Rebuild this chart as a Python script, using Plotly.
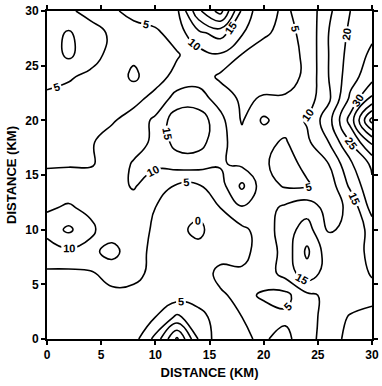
import plotly.graph_objects as go

# grid coordinates (km)
x_km = [0, 2, 4, 6, 8, 10, 12, 14, 16, 18, 20, 22, 24, 26, 28, 30]
y_km = [0, 2, 4, 6, 8, 10, 12, 14, 16, 18, 20, 22, 24, 26, 28, 30]

# field values, one row per y (from y=0 up to y=30)
row_y00 = [1, 1, 2, 2.5, 3, 11.5, 26, 9.5, 2, 4.5, 5.5, 3.5, 8.5, 12, 17, 19]
row_y02 = [2, 2, 2.5, 3, 3, 5, 11, 6.5, 3, 5, 6.5, 6, 8, 12, 15.5, 17]
row_y04 = [3, 3, 3.5, 4, 4, 3, 2.5, 3, 4.5, 6, 4.5, 3.5, 9, 11, 12, 13]
row_y06 = [4.5, 4, 4.5, 6.5, 6, 4, 2.5, 3, 6, 5.5, 7, 12, 18, 12.5, 12, 15.5]
row_y08 = [7, 9, 8.5, 12, 6.5, 4, 2, 2, 3.5, 4, 6.5, 12, 21, 12, 11.5, 17]
row_y10 = [12, 16, 11, 7, 6.5, 4.5, 1.5, -1.5, 4, 4, 7, 13, 17, 9.5, 11, 17]
row_y12 = [9.5, 10.5, 9, 8, 7.5, 5, 2.5, 2, 5, 9.5, 8, 11, 13, 8, 11, 22]
row_y14 = [7, 8, 8, 8, 10.5, 7, 4.5, 4.5, 8, 16, 7, 4.5, 4.5, 7, 16, 24]
row_y16 = [4.5, 4.5, 4.5, 7, 10.5, 11, 12, 12, 10.5, 9, 5.5, 3.5, 6, 10, 19, 26]
row_y18 = [3, 3.5, 4.5, 7, 8, 11, 17, 17, 11.5, 7, 6, 4.5, 9, 15, 25, 36]
row_y20 = [4, 3, 3, 4.5, 7, 11, 18, 18, 11.5, 4.5, 11, 7, 10.5, 18, 32, 52]
row_y22 = [4, 3.5, 2.5, 2.5, 3.5, 6.5, 12, 12, 8, 4, 5.5, 5.5, 7.5, 14, 26, 36]
row_y24 = [6.5, 5.5, 4, 3, -1, 3, 6.5, 8, 4, 3, 2.5, 3, 6, 15, 23, 28]
row_y26 = [7, 11, 7, 3.5, 1, 3, 4.5, 8, 9.5, 4.8, 3.5, 3, 6, 15, 22, 26]
row_y28 = [8, 10.5, 7.5, 4, 2.5, 4, 7.5, 14, 17, 10.5, 5.5, 4, 6, 15, 21, 24]
row_y30 = [8, 6, 3, 4, 7, 8, 9, 24, 32, 14, 6, 4.5, 6.5, 14, 20, 23]

z_rows = [row_y00, row_y02, row_y04, row_y06, row_y08, row_y10, row_y12, row_y14,
          row_y16, row_y18, row_y20, row_y22, row_y24, row_y26, row_y28, row_y30]

tick_vals = [0, 5, 10, 15, 20, 25, 30]
tick_text = ["0", "5", "10", "15", "20", "25", "30"]
axis_title = "DISTANCE (KM)"

fig = go.Figure(go.Contour(
    x=x_km, y=y_km, z=z_rows,
    contours=dict(start=0, end=55, size=5, coloring="lines", showlabels=True,
                  labelfont=dict(size=11, color="black", family="Liberation Sans", weight="bold")),
    line=dict(color="black", width=1.6, smoothing=1.3),
    colorscale=[[0, "black"], [1, "black"]],
    showscale=False, hoverinfo="skip",
))

axis_common = dict(range=[0, 30], tickvals=tick_vals, ticktext=tick_text,
                   ticks="outside", ticklen=4, tickwidth=1.5, tickcolor="black",
                   showline=True, linecolor="black", linewidth=2, mirror="ticks",
                   showgrid=False, zeroline=False,
                   tickfont=dict(family="Liberation Sans", size=12, color="black", weight="bold"),
                   title=dict(text=axis_title, font=dict(family="Liberation Sans", size=13,
                                                          color="black", weight="bold"), standoff=6))

fig.update_xaxes(**axis_common)
fig.update_yaxes(**axis_common)
fig.update_layout(width=382, height=386, margin=dict(l=47, r=4, t=10, b=47),
                  plot_bgcolor="white", paper_bgcolor="white", showlegend=False)

fig.write_html("out.html")
